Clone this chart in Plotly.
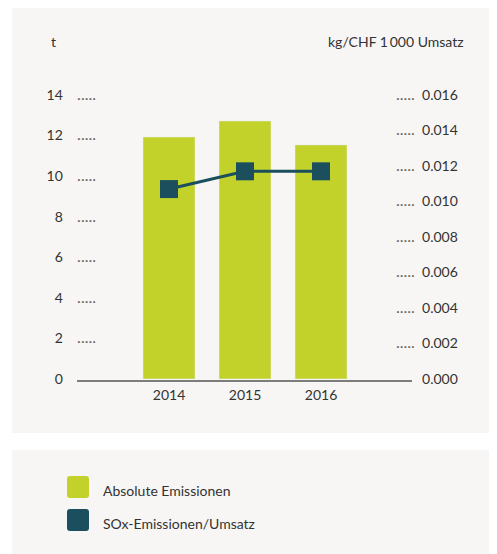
import plotly.graph_objects as go

# data
years = [2014, 2015, 2016]
absolute_emissions = [11.93, 12.72, 11.54]          # t
sox_per_revenue = [0.0107, 0.0117, 0.0117]          # kg/CHF 1000 Umsatz

left_ticks = [0, 2, 4, 6, 8, 10, 12, 14]
right_ticks = [0.000, 0.002, 0.004, 0.006, 0.008, 0.010, 0.012, 0.014, 0.016]

series_names = ["Absolute Emissionen", "SOx-Emissionen/Umsatz"]
left_unit = "t"
right_unit = "kg/CHF 1\u2009000 Umsatz"

# colours / layout constants
BAR_COLOR = "#c2d22b"
LINE_COLOR = "#1c4f5e"
PANEL_COLOR = "#f7f6f4"
TEXT_COLOR = "#333333"
DOT = "<span style='color:#666666;font-size:16px'>.....</span>"
NODOT = "<span style='color:rgba(0,0,0,0);font-size:16px'>.....</span>"

W, H = 497, 554
OFF = 8  # page body margin
# plot area in screenshot pixels
PLOT_L, PLOT_R, PLOT_T, PLOT_B = 99, 393, 95, 379


def px(x):
    """screenshot pixel x -> paper fraction"""
    return (x - PLOT_L) / (PLOT_R - PLOT_L)


def py(y):
    """screenshot pixel y -> paper fraction"""
    return (PLOT_B - y) / (PLOT_B - PLOT_T)


def rounded_box(x0, y0, x1, y1, r=3):
    # path in paper coords, corners rounded by r pixels
    rx = r / (PLOT_R - PLOT_L)
    ry = r / (PLOT_B - PLOT_T)
    a, b, c, d = px(x0), px(x1), py(y0), py(y1)   # c = top, d = bottom
    return (f"M{a+rx},{c} L{b-rx},{c} Q{b},{c} {b},{c-ry} L{b},{d+ry} "
            f"Q{b},{d} {b-rx},{d} L{a+rx},{d} Q{a},{d} {a},{d+ry} "
            f"L{a},{c-ry} Q{a},{c} {a+rx},{c} Z")


fig = go.Figure()

fig.add_trace(go.Bar(
    x=years, y=absolute_emissions, name=series_names[0],
    marker_color=BAR_COLOR, width=0.684, yaxis="y",
))

fig.add_trace(go.Scatter(
    x=years, y=sox_per_revenue, name=series_names[1], yaxis="y2",
    mode="lines+markers",
    line=dict(color=LINE_COLOR, width=3),
    marker=dict(symbol="square", size=18, color=LINE_COLOR),
))

# background panels
shapes = [
    dict(type="rect", xref="paper", yref="paper", layer="below",
         x0=px(12), x1=px(510), y0=py(433), y1=py(8),
         fillcolor=PANEL_COLOR, line_width=0),
    dict(type="rect", xref="paper", yref="paper", layer="below",
         x0=px(12), x1=px(510), y0=py(570), y1=py(450),
         fillcolor=PANEL_COLOR, line_width=0),
    # baseline
    dict(type="line", xref="paper", yref="paper",
         x0=px(77), x1=px(412), y0=py(381), y1=py(381),
         line=dict(color="#555555", width=1.5)),
    # legend swatches
    dict(type="path", xref="paper", yref="paper",
         path=rounded_box(67, 476, 89, 498), fillcolor=BAR_COLOR, line_width=0),
    dict(type="path", xref="paper", yref="paper",
         path=rounded_box(67, 509, 89, 531), fillcolor=LINE_COLOR, line_width=0),
]

annotations = [
    dict(text=left_unit, x=px(49), y=py(42), xanchor="left"),
    dict(text=right_unit, x=px(466), y=py(42), xanchor="right"),
    dict(text=series_names[0], x=px(101), y=py(490), xanchor="left"),
    dict(text=series_names[1], x=px(101), y=py(523), xanchor="left"),
]
for a in annotations:
    a.update(xref="paper", yref="paper", yanchor="middle", showarrow=False,
             font=dict(size=14, color=TEXT_COLOR))

fig.update_layout(
    width=W, height=H,
    margin=dict(l=PLOT_L - OFF, r=W - PLOT_R + OFF,
                t=PLOT_T - OFF, b=H - PLOT_B + OFF),
    paper_bgcolor="white",
    plot_bgcolor="rgba(0,0,0,0)",
    font=dict(family="Lato, sans-serif", size=14, color=TEXT_COLOR),
    showlegend=False,
    shapes=shapes,
    annotations=annotations,
    xaxis=dict(
        range=[2013.079, 2016.947], tickvals=years,
        ticktext=[str(y) for y in years],
        showgrid=False, zeroline=False, showline=False, ticks="",
        ticklabelstandoff=6,
    ),
    yaxis=dict(
        range=[0, 14], tickvals=left_ticks,
        ticktext=[f"{v}    {DOT if v else NODOT}" for v in left_ticks],
        showgrid=False, zeroline=False, showline=False, ticks="",
        ticklabelstandoff=2,
    ),
    yaxis2=dict(
        range=[0, 0.016], tickvals=right_ticks,
        ticktext=[f"{DOT if v else NODOT}  {v:.3f}" for v in right_ticks],
        overlaying="y", side="right",
        showgrid=False, zeroline=False, showline=False, ticks="",
        ticklabelstandoff=2,
    ),
)

fig.write_html("out.html")
